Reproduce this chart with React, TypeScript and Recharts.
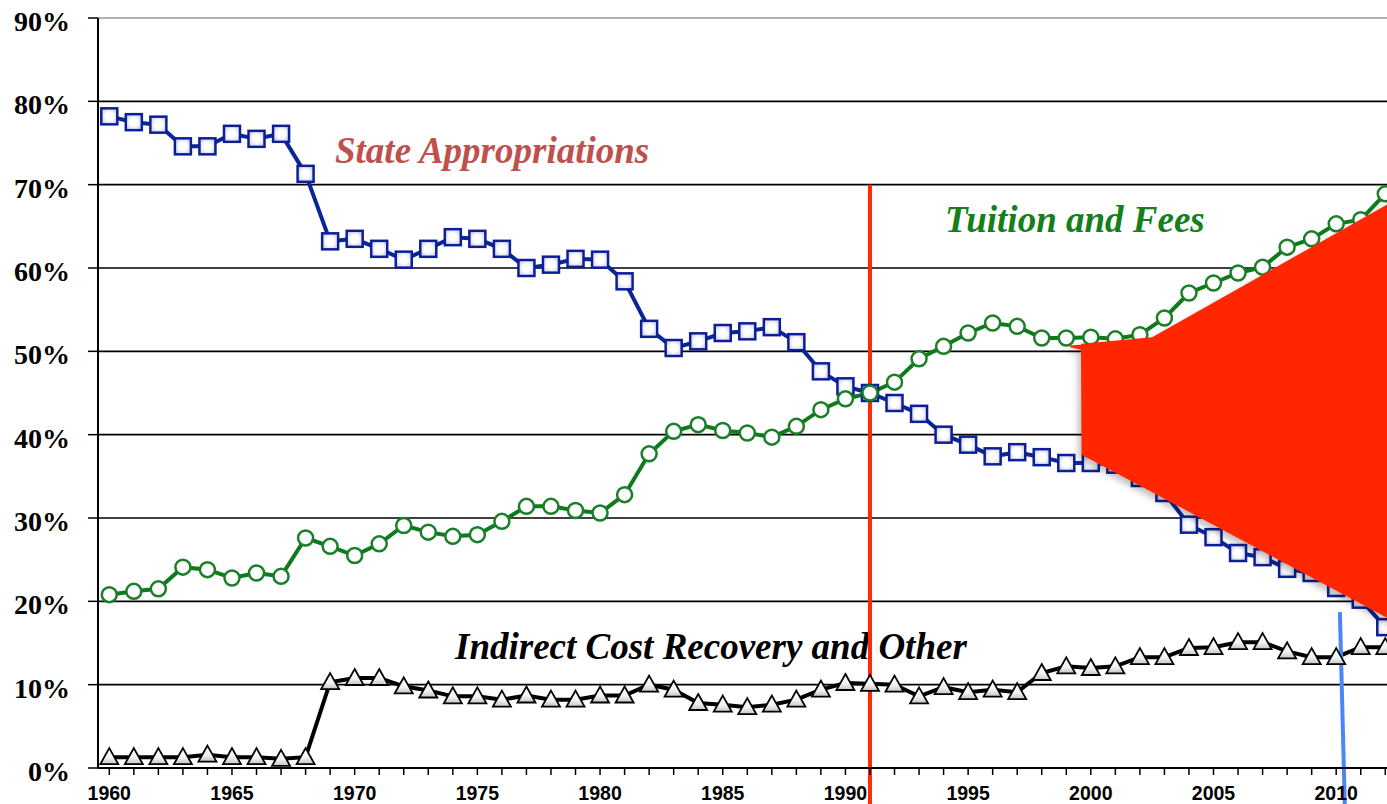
import React from 'react';
import { ComposedChart, Line, Area, XAxis, YAxis, ReferenceLine } from 'recharts';

// Share of revenue by source, percent of total
const years = [
  1960, 1961, 1962, 1963, 1964, 1965, 1966, 1967, 1968, 1969,
  1970, 1971, 1972, 1973, 1974, 1975, 1976, 1977, 1978, 1979,
  1980, 1981, 1982, 1983, 1984, 1985, 1986, 1987, 1988, 1989,
  1990, 1991, 1992, 1993, 1994, 1995, 1996, 1997, 1998, 1999,
  2000, 2001, 2002, 2003, 2004, 2005, 2006, 2007, 2008, 2009,
  2010, 2011, 2012,
];

const stateAppropriations = [
  78.2, 77.5, 77.2, 74.6, 74.6, 76.1, 75.5, 76.1, 71.3, 63.2,
  63.5, 62.3, 61.0, 62.3, 63.7, 63.5, 62.3, 60.0, 60.4, 61.1,
  61.0, 58.4, 52.7, 50.4, 51.2, 52.2, 52.4, 52.9, 51.1, 47.6,
  45.8, 45.0, 43.8, 42.5, 40.0, 38.8, 37.4, 37.9, 37.3, 36.6,
  36.6, 36.4, 34.8, 33.0, 29.2, 27.7, 25.8, 25.3, 23.9, 23.4,
  21.6, 20.2, 16.9,
];

const tuitionFees = [
  20.8, 21.2, 21.5, 24.1, 23.8, 22.8, 23.4, 23.0, 27.6, 26.6,
  25.5, 26.9, 29.1, 28.3, 27.8, 28.0, 29.6, 31.4, 31.4, 30.9,
  30.6, 32.8, 37.7, 40.4, 41.2, 40.5, 40.2, 39.7, 41.0, 43.0,
  44.3, 45.0, 46.3, 49.1, 50.6, 52.2, 53.4, 53.0, 51.6, 51.6,
  51.7, 51.5, 52.0, 54.0, 57.0, 58.2, 59.4, 60.1, 62.5, 63.5,
  65.3, 65.8, 68.9,
];

const indirectCost = [
  1.3, 1.3, 1.3, 1.3, 1.6, 1.3, 1.3, 1.1, 1.3, 10.3,
  10.8, 10.8, 9.8, 9.3, 8.6, 8.6, 8.2, 8.7, 8.2, 8.2,
  8.7, 8.7, 10.0, 9.4, 7.8, 7.6, 7.3, 7.6, 8.2, 9.4,
  10.2, 10.1, 10.0, 8.6, 9.7, 9.1, 9.4, 9.1, 11.4, 12.2,
  12.0, 12.2, 13.3, 13.3, 14.4, 14.5, 15.1, 15.1, 14.0, 13.3,
  13.3, 14.5, 14.5,
];

const yTicks = [0, 10, 20, 30, 40, 50, 60, 70, 80, 90];
const labelYears = [1960, 1965, 1970, 1975, 1980, 1985, 1990, 1995, 2000, 2005, 2010];

// red wedge drawn over the right side (year, [low, high] in %)
const wedgeYears = [1999.15, 1999.6, 1999.62, 2002.5, 2012.6];
const wedgeLow = [50.5, 50.2, 37.6, 33.1, 17.2];
const wedgeHigh = [50.7, 50.8, 50.9, 51.7, 68.5];

const rows = years.map((year, i) => ({
  year,
  state: stateAppropriations[i],
  tuition: tuitionFees[i],
  indirect: indirectCost[i],
}));

const wedge = wedgeYears.map((year, i) => ({ year, band: [wedgeLow[i], wedgeHigh[i]] }));

const X_DOMAIN = [1959.54, 2012.6];
const CHART_W = 1420;
const CHART_H = 804;

const SquareDot = (props: any) => {
  const { cx, cy } = props;
  if (cx == null || cy == null) return null;
  return <rect x={cx - 8} y={cy - 8} width={16} height={16} fill="url(#sqFill)" stroke="#0d1f96" strokeWidth={2.5} />;
};

const CircleDot = (props: any) => {
  const { cx, cy } = props;
  if (cx == null || cy == null) return null;
  return <circle cx={cx} cy={cy} r={7.5} fill="#ffffff" stroke="#1a7f28" strokeWidth={2.5} />;
};

const TriangleDot = (props: any) => {
  const { cx, cy } = props;
  if (cx == null || cy == null) return null;
  return (
    <polygon
      points={`${cx},${cy - 9} ${cx + 9},${cy + 7} ${cx - 9},${cy + 7}`}
      fill="url(#triFill)"
      stroke="#000000"
      strokeWidth={1.8}
    />
  );
};

const YTick = (props: any) => {
  const { x, y, payload } = props;
  return (
    <text x={x} y={y + 13} textAnchor="end" fontFamily="'Liberation Serif', 'Times New Roman', serif" fontWeight="bold" fontSize={28} fill="#000">
      {payload.value}%
    </text>
  );
};

const XTick = (props: any) => {
  const { x, y, payload } = props;
  if (!labelYears.includes(payload.value)) return null;
  return (
    <text x={x} y={y + 23} textAnchor="middle" fontFamily="'Liberation Sans', Arial, sans-serif" fontWeight="bold" fontSize={19.5} fill="#000">
      {payload.value}
    </text>
  );
};

const labelFont = "'Liberation Serif', 'Times New Roman', serif";

export default function App() {
  return (
    <div style={{ position: 'relative', width: 1387, height: 804, overflow: 'hidden', background: '#fff' }}>
      <style>{'body{margin:0;overflow:hidden}'}</style>
      <svg width={1387} height={804} style={{ position: 'absolute', left: 0, top: 0, zIndex: 0 }}>
        <text x={335} y={163} fontFamily={labelFont} fontStyle="italic" fontWeight="bold" fontSize={37} fill="#c0504d">
          State Appropriations
        </text>
        <text x={945} y={232} fontFamily={labelFont} fontStyle="italic" fontWeight="bold" fontSize={37} fill="#13801a">
          Tuition and Fees
        </text>
        <text x={455} y={659} fontFamily={labelFont} fontStyle="italic" fontWeight="bold" fontSize={37} fill="#000">
          Indirect Cost Recovery and Other
        </text>
      </svg>
      <div style={{ position: 'absolute', left: 0, top: 0, zIndex: 1 }}>
        <ComposedChart width={CHART_W} height={CHART_H} data={rows} margin={{ top: 18, right: 20, bottom: 0, left: 0 }}>
          <defs>
            <radialGradient id="sqFill" cx="50%" cy="50%" r="60%">
              <stop offset="40%" stopColor="#ffffff" />
              <stop offset="100%" stopColor="#c9cbe8" />
            </radialGradient>
            <linearGradient id="triFill" x1="0" y1="0" x2="0" y2="1">
              <stop offset="0%" stopColor="#ffffff" />
              <stop offset="60%" stopColor="#f2f2f2" />
              <stop offset="100%" stopColor="#c4c4c4" />
            </linearGradient>
          </defs>
          <XAxis
            dataKey="year"
            type="number"
            domain={X_DOMAIN}
            ticks={years}
            interval={0}
            height={36}
            axisLine={{ stroke: '#000', strokeWidth: 2 }}
            tickLine={{ stroke: '#000', strokeWidth: 1.5 }}
            tickSize={7}
            tick={<XTick />}
          />
          <YAxis
            type="number"
            domain={[0, 90]}
            ticks={yTicks}
            width={98}
            axisLine={{ stroke: '#000', strokeWidth: 2 }}
            tickLine={{ stroke: '#000', strokeWidth: 1.5 }}
            tickSize={10}
            tickMargin={18}
            tick={<YTick />}
          />
          {yTicks.map((v) => (
            <ReferenceLine key={v} y={v} stroke={v === 90 ? '#999999' : '#000000'} strokeWidth={v === 90 ? 1.5 : 1.6} />
          ))}
          <Line
            dataKey="state"
            type="linear"
            stroke="#0b2595"
            strokeWidth={4}
            dot={<SquareDot />}
            activeDot={false}
            isAnimationActive={false}
          />
          <Line
            dataKey="tuition"
            type="linear"
            stroke="#0e7a1c"
            strokeWidth={4}
            dot={<CircleDot />}
            activeDot={false}
            isAnimationActive={false}
          />
          <Line
            dataKey="indirect"
            type="linear"
            stroke="#000000"
            strokeWidth={4}
            dot={<TriangleDot />}
            activeDot={false}
            isAnimationActive={false}
          />
          <ReferenceLine
            segment={[{ x: 1991, y: 70 }, { x: 1991, y: -4.4 }]}
            stroke="#ff2a00"
            strokeWidth={4}
            ifOverflow="visible"
          />
          <ReferenceLine
            segment={[{ x: 2010.15, y: 18.7 }, { x: 2010.35, y: -4.4 }]}
            stroke="#4a86f7"
            strokeWidth={4}
            ifOverflow="visible"
          />
        </ComposedChart>
      </div>
      {/* wedge overlay, same plot area, drawn on top of the series */}
      <div style={{ position: 'absolute', left: 0, top: 0, zIndex: 2, pointerEvents: 'none' }}>
        <ComposedChart width={CHART_W} height={CHART_H} data={wedge} margin={{ top: 18, right: 20, bottom: 36, left: 98 }}>
          <defs>
            <filter id="wedgeShadow" x="-10%" y="-10%" width="130%" height="130%">
              <feDropShadow dx="-3" dy="4" stdDeviation="3" floodColor="#000" floodOpacity="0.25" />
            </filter>
          </defs>
          <XAxis dataKey="year" type="number" domain={X_DOMAIN} hide />
          <YAxis type="number" domain={[0, 90]} hide />
          <Area
            dataKey="band"
            type="linear"
            stroke="none"
            fill="#ff2600"
            fillOpacity={1}
            dot={false}
            activeDot={false}
            isAnimationActive={false}
            style={{ filter: 'url(#wedgeShadow)' }}
          />
        </ComposedChart>
      </div>
    </div>
  );
}
